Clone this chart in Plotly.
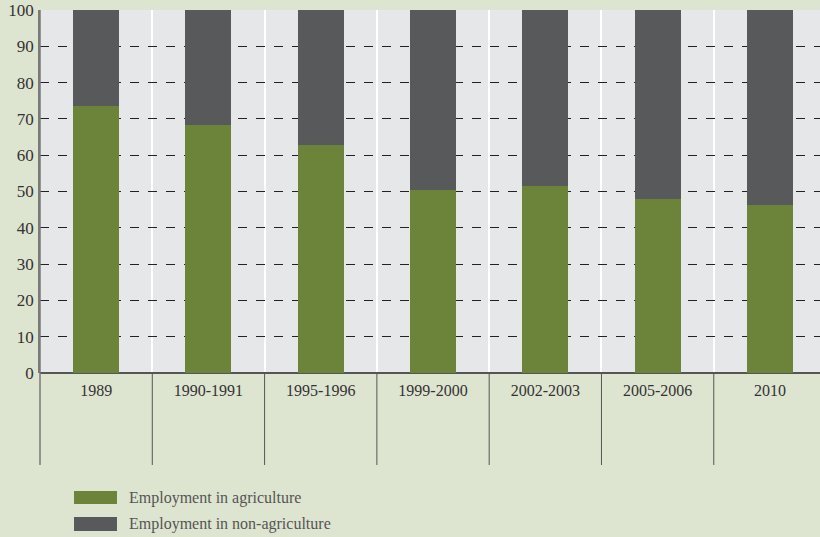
import plotly.graph_objects as go

categories = ["1989", "1990-1991", "1995-1996", "1999-2000", "2002-2003", "2005-2006", "2010"]
agriculture = [73.5, 68.3, 62.8, 50.4, 51.5, 47.9, 46.3]
non_agriculture = [26.5, 31.7, 37.2, 49.6, 48.5, 52.1, 53.7]
series_names = ["Employment in agriculture", "Employment in non-agriculture"]
y_ticks = [0, 10, 20, 30, 40, 50, 60, 70, 80, 90, 100]

GREEN = "#6b843a"
DARK = "#58595b"
FONT = "'Liberation Serif', 'DejaVu Serif', serif"

fig = go.Figure()
fig.add_trace(go.Bar(x=categories, y=agriculture, name=series_names[0],
                     marker=dict(color=GREEN, line=dict(width=0)), width=0.41))
fig.add_trace(go.Bar(x=categories, y=non_agriculture, name=series_names[1],
                     marker=dict(color=DARK, line=dict(width=0)), width=0.41))

shapes = []
for i in range(1, len(categories)):
    shapes.append(dict(type="line", xref="x", yref="paper", x0=i - 0.5, x1=i - 0.5,
                       y0=-0.2534, y1=0, line=dict(color="#555555", width=1)))
shapes.append(dict(type="line", xref="paper", yref="paper", x0=0, x1=0,
                   y0=-0.2534, y1=1, line=dict(color="#7a7a7a", width=1.5)))
legend_rows = [(-0.325, -0.361), (-0.397, -0.435)]
annotations = []
for (ya, yb), col, name in zip(legend_rows, [GREEN, DARK], series_names):
    shapes.append(dict(type="rect", xref="paper", yref="paper", x0=0.0436, x1=0.0987,
                       y0=yb, y1=ya, fillcolor=col, line=dict(width=0)))
    annotations.append(dict(xref="paper", yref="paper", x=0.112, y=(ya + yb) / 2,
                            text=name, showarrow=False, xanchor="left", yanchor="middle",
                            font=dict(family=FONT, size=16, color="#555555")))

fig.update_layout(
    barmode="stack",
    width=820, height=537,
    margin=dict(l=40, r=0, t=10, b=164),
    paper_bgcolor="#dde4cf",
    plot_bgcolor="#e6e7e9",
    showlegend=False,
    shapes=shapes,
    annotations=annotations,
    font=dict(family=FONT),
    xaxis=dict(type="category", range=[-0.5, 6.446], tickson="boundaries",
               showgrid=True, gridcolor="#ffffff", gridwidth=1.5, ticks="",
               showline=False, ticklabelstandoff=6,
               tickfont=dict(family=FONT, size=16, color="#333333"),
               fixedrange=True),
    yaxis=dict(range=[0, 100], tickvals=y_ticks, showgrid=True, gridcolor="#222222",
               griddash="dash", gridwidth=1, zeroline=True, zerolinecolor="#555555",
               zerolinewidth=1.5, showline=True, linecolor="#7a7a7a", linewidth=1.5,
               ticks="", ticklen=0, ticklabelstandoff=1,
               tickfont=dict(family=FONT, size=17, color="#333333")),
)

fig.write_html("out.html", config={"responsive": False, "displayModeBar": False},
               post_script="document.body.style.margin='0';document.body.style.padding='0';")
